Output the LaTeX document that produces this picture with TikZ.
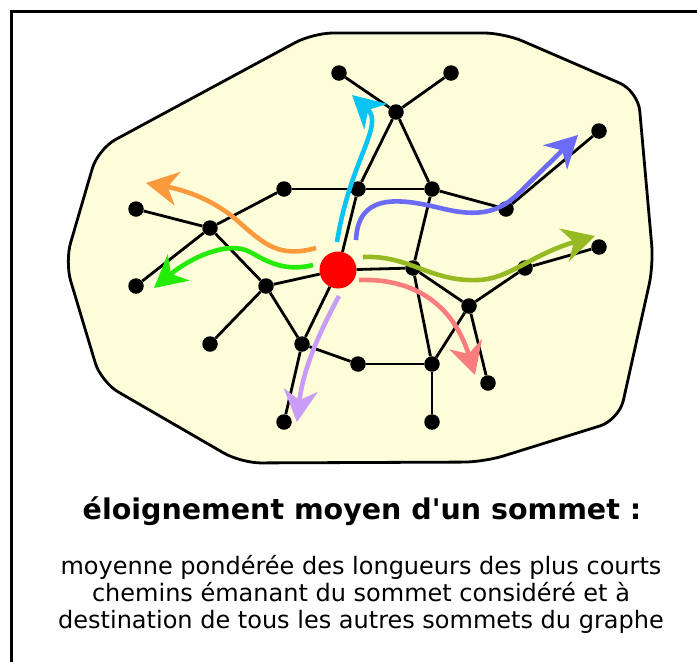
\documentclass[tikz,border=0pt]{standalone}
\usepackage{fontspec}
\setmainfont{DejaVu Sans}
\usetikzlibrary{arrows.meta}
\definecolor{blobfill}{HTML}{FDFDD9}
\definecolor{cyanpath}{HTML}{0BC4F4}
\definecolor{bluepath}{HTML}{6B6BF7}
\definecolor{olivepath}{HTML}{97BA24}
\definecolor{pinkpath}{HTML}{FA7D7D}
\definecolor{lilacpath}{HTML}{C89CF7}
\definecolor{greenpath}{HTML}{25EB0A}
\definecolor{orangepath}{HTML}{FA9A3C}

\begin{document}
\begin{tikzpicture}[x=1pt,y=-1pt,
  dot/.style={circle,fill=black,inner sep=0pt,minimum size=15.5pt},
  edge/.style={line width=2.8pt},
  route/.style={line width=4.6pt,-{Stealth[length=32pt,width=34pt,inset=10pt]}}]
\useasboundingbox (0,0) rectangle (697,662);
% frame, cut off at the right and the bottom
\draw[line width=3pt] (11,670) -- (11,11.5) -- (705,11.5);
% the graph's outline
\draw[line width=2.8pt,fill=blobfill,rounded corners=20pt]
  (400,33) -- (504,33) -- (638,91) -- (653.5,265) -- (619,420) -- (484,462)
  -- (241,463) -- (101,382) -- (65,262) -- (98,149) -- (313,33) -- cycle;
% vertices
\foreach \n/\px/\py in {a1/339/73, a2/451/73, t/396/112, h1/284/189, h2/358/189,
    h3/432/189, r1/506/209, r2/599/131, l1/136/209, l2/210/228, l3/136/286,
    m/266/286, n/413/268, p/525/268, q/599/247, s/469/306, w/210/344,
    u/302/344, v/358/364, x/432/364, y/488/383, z/284/422, zz/432/422}{
  \node[dot] (\n) at (\px,\py) {};
}
\node[circle,fill=red,inner sep=0pt,minimum size=37pt] (c) at (338,270) {};
% edges
\foreach \a/\b in {a1/t, a2/t, t/h2, t/h3, h1/h2, h2/h3, h3/r1, r1/r2, c/h2,
    h3/n, n/x, c/n, n/s, s/p, p/q, s/y, s/x, x/v, x/zz, v/u, u/z, u/m,
    c/u, c/m, m/l2, m/w, l2/l1, l2/l3, l2/h1}{
  \draw[edge] (\a) -- (\b);
}
% shortest paths from the red vertex
\draw[route,cyanpath] (337,242) .. controls (350,160) and (385,125) .. (352,95);
\draw[route,bluepath] (356,240) .. controls (358,195) and (395,197) .. (440,208)
  .. controls (480,218) and (500,212) .. (520,192) -- (578,135);
\draw[route,olivepath] (363,257) .. controls (410,255) and (430,282) .. (478,280)
  .. controls (510,279) and (530,255) .. (595,236);
\draw[route,pinkpath] (359,280) .. controls (420,278) and (455,310) .. (475,375);
\draw[route,lilacpath] (339,296) .. controls (318,335) and (303,370) .. (297,422);
\draw[route,greenpath] (313,265) .. controls (285,272) and (268,262) .. (250,252)
  .. controls (228,240) and (190,258) .. (154,288);
\draw[route,orangepath] (316,248) .. controls (280,258) and (265,245) .. (240,223)
  .. controls (215,200) and (185,190) .. (146,183);
% caption
\node[font=\fontsize{28.5}{32}\selectfont\bfseries,anchor=base] (title) at (362,519)
  {éloignement moyen d\textquotesingle un sommet :};
\node[font=\fontsize{24}{27}\selectfont,anchor=base] (line1) at (361,574)
  {moyenne pondérée des longueurs des plus courts};
\node[font=\fontsize{24}{27}\selectfont,anchor=base] (line2) at (361,601)
  {chemins émanant du sommet considéré et à};
\node[font=\fontsize{24}{27}\selectfont,anchor=base] (line3) at (361,628)
  {destination de tous les autres sommets du graphe};
\end{tikzpicture}
\end{document}
